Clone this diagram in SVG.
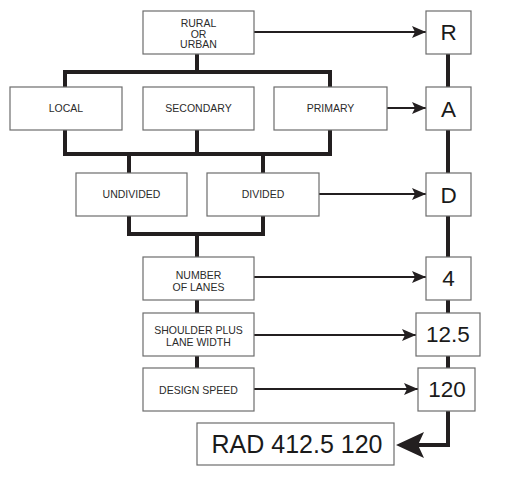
<svg xmlns="http://www.w3.org/2000/svg" width="520" height="486" viewBox="0 0 520 486">
<style>
.box{fill:#fff;stroke:#6d6d6d;stroke-width:1.2}
.sm{font-family:"Liberation Sans",Arial,sans-serif;font-size:10.5px;fill:#2b2b2b;text-anchor:middle}
.lg{font-family:"Liberation Sans",Arial,sans-serif;font-size:22.5px;fill:#1a1a1a;text-anchor:middle}
.thick{fill:none;stroke:#231f20;stroke-width:4;stroke-linejoin:miter}
.thin{fill:none;stroke:#231f20;stroke-width:1.8}
</style>
<defs>
<marker id="ah" viewBox="0 0 14 12" refX="14" refY="6" markerWidth="14" markerHeight="12" markerUnits="userSpaceOnUse" orient="auto">
<path d="M0,0 L14,6 L0,12 L3,6 Z" fill="#231f20"/>
</marker>
</defs>
<g id="connectors">
<path class="thick" d="M197,54 V72 M65,87 V72 H330 V87"/>
<path class="thick" d="M65,130 V154 H330 V130 M197,130 V154 M129,173 V154 M263,173 V154"/>
<path class="thick" d="M129,216 V234 H263 V216 M197,234 V257"/>
<path class="thick" d="M197,300 V313 M197,356 V368"/>
<path class="thick" d="M448,54 V87 M448,130 V173 M448,216 V257 M448,300 V313 M448,356 V368 M448,411 V445 H418"/>
<path d="M396,445 L424,432 L418,445 L424,458 Z" fill="#231f20"/>
<line class="thin" x1="254" y1="32" x2="426" y2="32" marker-end="url(#ah)"/>
<line class="thin" x1="385" y1="108" x2="426" y2="108" marker-end="url(#ah)"/>
<line class="thin" x1="319" y1="194" x2="426" y2="194" marker-end="url(#ah)"/>
<line class="thin" x1="254" y1="277" x2="426" y2="277" marker-end="url(#ah)"/>
<line class="thin" x1="254" y1="335" x2="416" y2="335" marker-end="url(#ah)"/>
<line class="thin" x1="254" y1="389" x2="418" y2="389" marker-end="url(#ah)"/>
</g>
<g id="rural"><rect class="box" x="143" y="11" width="111" height="43"/>
<text class="sm" x="198.5" y="26.5">RURAL</text><text class="sm" x="198.5" y="37.5">OR</text><text class="sm" x="198.5" y="48">URBAN</text></g>
<g id="local"><rect class="box" x="10" y="87" width="112" height="43"/><text class="sm" x="66" y="112">LOCAL</text></g>
<g id="secondary"><rect class="box" x="143" y="87" width="111" height="43"/><text class="sm" x="198.5" y="112">SECONDARY</text></g>
<g id="primary"><rect class="box" x="274" y="87" width="113" height="43"/><text class="sm" x="330.5" y="112">PRIMARY</text></g>
<g id="undivided"><rect class="box" x="76" y="173" width="111" height="43"/><text class="sm" x="131.5" y="198">UNDIVIDED</text></g>
<g id="divided"><rect class="box" x="207" y="173" width="112" height="43"/><text class="sm" x="263" y="198">DIVIDED</text></g>
<g id="lanes"><rect class="box" x="143" y="257" width="111" height="43"/><text class="sm" x="198.5" y="279">NUMBER</text><text class="sm" x="198.5" y="291">OF LANES</text></g>
<g id="shoulder"><rect class="box" x="143" y="313" width="111" height="43"/><text class="sm" x="198.5" y="334">SHOULDER PLUS</text><text class="sm" x="198.5" y="346">LANE WIDTH</text></g>
<g id="speed"><rect class="box" x="143" y="368" width="111" height="43"/><text class="sm" x="198.5" y="394">DESIGN SPEED</text></g>
<g id="r"><rect class="box" x="426" y="11" width="45" height="43"/><text class="lg" x="448.5" y="40">R</text></g>
<g id="a"><rect class="box" x="426" y="87" width="45" height="43"/><text class="lg" x="448.5" y="116.5">A</text></g>
<g id="d"><rect class="box" x="426" y="173" width="45" height="43"/><text class="lg" x="448.5" y="202.5">D</text></g>
<g id="n4"><rect class="box" x="426" y="257" width="45" height="43"/><text class="lg" x="448.5" y="286">4</text></g>
<g id="n125"><rect class="box" x="416" y="313" width="64" height="43"/><text class="lg" x="448" y="342">12.5</text></g>
<g id="n120"><rect class="box" x="418" y="368" width="57" height="43"/><text class="lg" x="447" y="397">120</text></g>
<g id="rad"><rect class="box" x="197" y="423" width="197" height="42"/><text class="lg" x="297" y="453" style="font-size:25px">RAD 412.5 120</text></g>
</svg>
